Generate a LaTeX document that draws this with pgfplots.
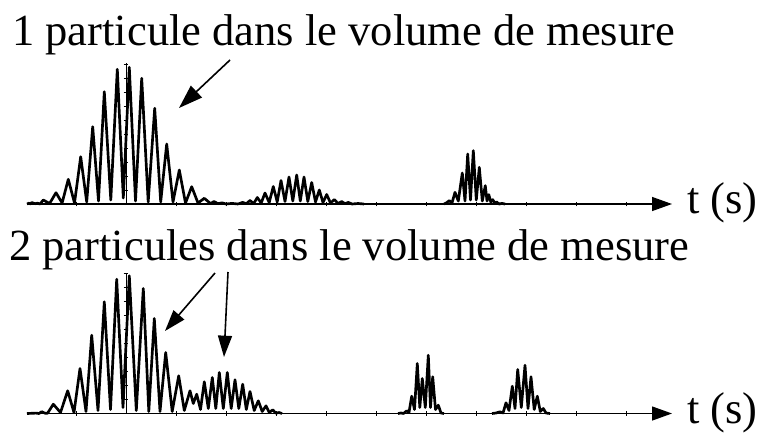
\documentclass[border=0pt]{standalone}
\usepackage{fontspec}
\setmainfont{Liberation Serif}
\usepackage{pgfplots}
\pgfplotsset{compat=1.18}
\usetikzlibrary{arrows.meta}

% one panel: x and y in pixels of the original figure, origin at the burst centre
\pgfplotsset{
  panel/.style={
    anchor=origin, x=0.75pt, y=0.75pt,
    xmin=-99, xmax=546, ymin=0, ymax=141,
    enlargelimits=false, clip=false,
    axis lines=middle,
    axis line style={black, line width=0.6pt},
    x axis line style={-{Triangle[length=15pt,width=10.5pt]}, line width=1pt},
    y axis line style={-},
    xtick={-50,0,...,500}, ytick={14,28,...,140},
    xticklabels={}, yticklabels={},
    tick align=center, major tick length=3.5pt,
    tick style={black, line width=0.5pt},
  },
  signal/.style={black, line width=2pt, line join=round, mark=none},
}

\begin{document}
\begin{tikzpicture}[x=0.75pt, y=0.75pt]
\useasboundingbox (0,0) rectangle (763,437);
\fontsize{33.4}{36}\selectfont

% ---- top: one particle ----
\begin{axis}[panel, at={(126,233)}]
\addplot[signal] coordinates {
(-99,0) (-97,0.8) (-95.5,0) (-94.3,1.5) (-91,0.3) (-88.5,0.8) (-86,0) (-82.7,4)
(-76.4,0.5) (-70,11.3) (-63.9,1) (-57.7,24.7) (-51.5,1) (-45.3,47.3) (-39.3,2)
(-33.3,77.3) (-27.5,3) (-21.7,112.3) (-15.2,4) (-8.7,134.7) (-2.7,6) (3.3,136.7)
(9.5,3) (15.7,125.7) (22.2,2) (28.7,95.7) (34.7,2) (40.7,60) (47,2) (53.3,34)
(59.5,1) (65.7,17.3) (72,1) (78.3,5.7) (84.5,0.5) (88,2.5) (92,0.3) (96,1.2)
(100,0) (106,0.6) (112,0)
};
\addplot[signal] coordinates {
(112,0) (116.7,1.6) (120.3,0.3) (124,3.5) (127.7,0.5) (131.3,6.5) (135.2,1)
(139,11) (143.2,1.5) (147.3,17.5) (151.2,2) (155,23.5) (159,2.5) (163,27)
(166.8,3) (170.7,29) (174.3,3) (178,27) (181.8,2.5) (185.7,21.5) (189.5,2)
(193.3,14) (197,1.5) (200.7,9.5) (204.5,1) (208.3,4.5) (212,0.5) (215.7,2.5)
(219,0.3) (222.3,1.6) (226,0) (232,0.5) (238,0)
};
\addplot[signal] coordinates {
(318,0) (320.5,1.2) (323.3,3.4) (326,1) (329,11.7) (332.3,3) (336.3,31) (339,3)
(341.7,50) (344.5,4) (347.3,53.4) (350.3,4) (353.3,36.7) (356.3,3) (359.3,18.4)
(361,3) (362.8,9.4) (364.8,2) (366.7,4.4) (368.7,1) (370.7,2) (373,0) (376,0.6)
(379,0)
};
\end{axis}

% ---- bottom: two particles ----
\begin{axis}[panel, at={(126,23.5)}]
\addplot[signal] coordinates {
(-99,0) (-90,0.4) (-87,0) (-84.3,1.8) (-81,0.3) (-78.5,0.2) (-72.7,9.3) (-65.5,1)
(-58.3,22.7) (-52,1) (-46,45) (-40,2) (-34.3,78.3) (-28,3) (-21.7,111.7)
(-15.5,4) (-9.3,134.3) (-3,6) (3.3,137.7) (10.3,3) (17.3,125) (22.8,2) (28.3,95)
(34,2) (39.7,61) (46.2,2) (52.7,37.7) (58.3,3) (64,22.7) (67.3,10) (70.7,19.3)
(74.5,4) (78.3,31.7) (82.3,5) (86.3,36) (89.8,5) (93.3,41) (97.3,5) (101.3,41)
(105.2,5) (109,33.7) (112.8,5) (116.7,29.3) (120.3,4) (124,22) (128.2,3)
(132.3,12.7) (136.2,2) (140,7.7) (143.3,1) (146.7,3.7) (150,0.3) (153,1) (156,0)
};
\addplot[signal] coordinates {
(272,0) (275,0.5) (277.5,0) (280.7,2.7) (283,1) (285.7,17.3) (288.5,4) (291.3,50)
(293.8,6) (296.3,35) (299.3,6) (302.3,58.3) (304.5,6) (306.7,36.7) (309.5,4)
(312.3,8.3) (315,0.5) (318,0)
};
\addplot[signal] coordinates {
(366,0) (370,0.5) (374,1.7) (377,0.5) (380,10.7) (383,3) (386.3,27.3) (389,5)
(391.7,44) (395.3,6) (399,48.3) (402,5) (405,36.7) (408.2,4) (411.3,17.3)
(414.3,2) (417.3,5) (420,0.5) (424,0)
};
\end{axis}

% ---- texts and pointers ----
\node[anchor=base west, inner sep=0pt] at (12,392) {1 particule dans le volume de mesure};
\node[anchor=base west, inner sep=0pt] at (9,177) {2 particules dans le volume de mesure};
\node[anchor=base west, inner sep=0pt] at (687,224) {t (s)};
\node[anchor=base west, inner sep=0pt] at (687,14) {t (s)};

\draw[line width=1.2pt, -{Triangle[length=18pt,width=12pt]}] (230,377) -- (179,329);
\draw[line width=1.2pt, -{Triangle[length=16pt,width=10.5pt]}] (215,164) -- (165,106);
\draw[line width=1.2pt, -{Triangle[length=16pt,width=10.5pt]}] (228,165) -- (224,80);
\end{tikzpicture}
\end{document}
